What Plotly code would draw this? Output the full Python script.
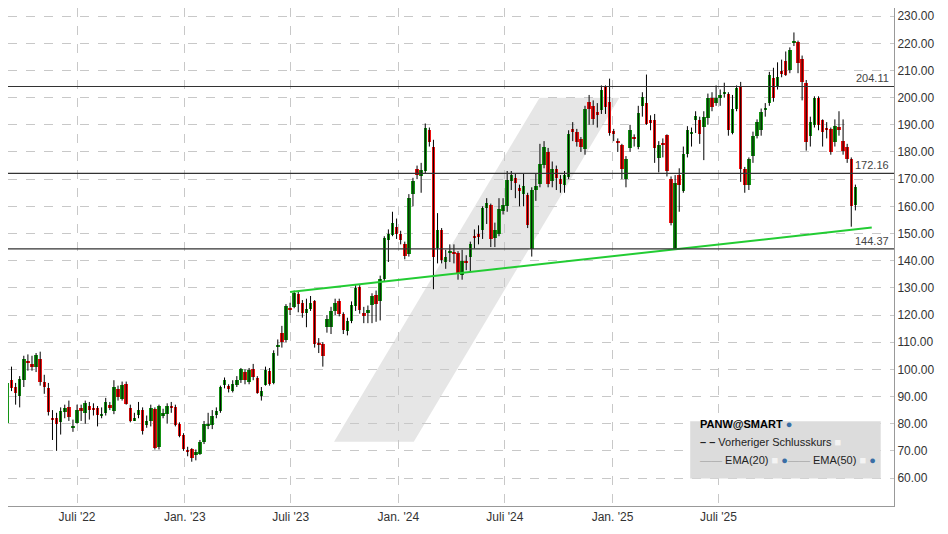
import pandas as pd
import plotly.graph_objects as go

# weekly candles: open, close, high, low
opens = [83.2,80.4,96.1,93.5,90.2,96.2,103,102,101,103.8,95.3,93.1,82.2,82,80.7,84.3,86.2,78.5,80.3,85.8,
         84,86.5,85.9,85.6,82.8,84,86.9,84.7,92.9,89.2,94.7,85.8,81,83.3,85.2,79.5,81,85.5,71.5,82.8,
         83.7,86.5,86.2,80,76,70.3,70.6,68.5,69,73.2,79,79.5,83.2,84.7,94.4,93.8,92,94.4,96,99,
         95.3,100.1,96.8,90.2,94.4,99.4,95.1,108.3,113.4,110.7,122.6,123,127.7,124.5,120.7,122.3,125.1,109.7,109.3,115.6,
         115.6,121.5,125.1,120.3,114.1,117.8,123.3,130.3,120.8,120.8,123.7,127.4,125.1,133.1,147.5,149.4,152.4,149.9,146.2,142.3,
         164.6,173.7,171.1,173,188,181.8,144.8,151.3,139.6,142.9,143.2,142.9,134.6,139.9,141.4,149,149.7,151.4,159.5,160.5,
         148.4,149.9,158.3,160,169.5,170.5,166.7,164.4,164.1,144.2,165.9,168.3,175.2,180,169.3,173.6,170.1,167.9,170.9,188.5,
         187.5,184.7,181,198.4,196.9,194.7,195.4,203.9,198.4,187.7,184,182.5,170.1,181.6,185.5,181.9,196.9,198.1,191.7,191.7,
         177.9,183.4,186.1,170.1,144.4,171.7,165.6,179.1,186.7,191.7,191.7,189.2,192.6,199.7,198,199.9,201.4,201.4,187,196,
         204.2,173.6,167.7,178.5,185.9,188,195.3,198.1,207.1,203.9,209.8,213.4,210,220.2,220.5,214.4,205.5,185.9,189.9,199.7,
         191.7,188.9,188.5,183.8,189.2,184,181.9,177.5,160.4]
closes = [80.6,95.1,93.3,91.4,96.3,103.8,102.2,101,105.1,95.4,93.6,84.3,81.6,80,84.7,85.6,82.5,79,85,84.7,
          87.6,85,85,83.2,83.7,88,85.8,93.5,89.8,94.4,87.4,81,82.2,85.2,77.3,81,85.8,71.1,86.5,84,
          86.5,85.8,79.5,75.5,70.7,69.7,67.5,69.6,73.3,80,80,82.8,84.7,93.5,96,93.1,94.7,96,100,96,
          99.9,97,91.4,92,99.9,94.5,106.1,108.9,110.2,123.3,121.8,128.1,124,120.8,122.2,124.5,109.4,109.1,104.9,118.5,
          121.5,124.5,120.3,114.5,117.8,123.7,130,121.7,119.6,121.8,127,124.2,133.1,148.4,149.7,153.8,149.7,147.7,141.7,163.2,
          169.3,171.5,173.2,188.9,183.8,141.4,151.3,140.3,141.3,143.5,142.5,135,139.9,139.2,146,148.4,149,159.5,161.2,147.9,
          151.4,159.2,160.6,169.7,171.5,168.7,165.6,167.4,153.1,166,167.4,175.7,181.8,168.3,173.8,170.5,168.3,171.5,186.8,187.5,
          183.8,181.8,196,196,192.2,193.8,203,196.6,187,186.8,183.4,173.8,177.5,188,184.9,194.3,200.4,190.4,191,181.3,
          182.5,182.8,172.9,153.7,168.7,167.7,179.4,188,187.3,193.2,186.8,192.8,199.7,196.6,199.7,200.9,202,188,196,203.4,
          173.6,167.7,177.5,186,191,194.7,196.3,208.5,199.7,207.6,208.8,208.5,217.5,220.8,212.8,205.7,183.7,191,199.7,189.9,
          187.3,188.3,179.9,189.5,188,180.3,177.5,160.1,167.2]
highs = [84.5,96.5,101,95,97.5,105,105.5,105,106,106.5,98,95,85,84,86,87,88.5,81.5,87,87,
         88.5,88,87.5,86.5,86,89.5,88,96,94,95.5,95.5,87,84,88,86,83,87,86,87,85.5,
         87.5,88,87,80.5,76.5,71.5,71,70.5,74,81,84,85,86,94,97,94.5,96,97.5,100.5,100,
         100.5,102,97.5,93.5,101,100.5,107,111,116,124,124.5,129,128.5,125.5,126,127,125.5,111.5,110,120,
         123,126,126,121,119,125,131,131,123,123.5,128,129,134.5,149,151.5,158,155.5,151,147,164.5,
         170.5,175,176,190.5,189,184.5,157.5,152,144,146,146,143.5,144,142,147,151.5,153,160,163,161,
         154,163,163,173,173,172,168,172,165,167,172,183,184,181.5,176.5,175,171.5,173,188,191,
         188.5,185.5,197,201,199,198,204.5,204.5,207,188.5,185,183,178.5,190,186.5,197,202,208.5,193.5,194,
         184,185,186.5,171,171.5,174,182,189.5,189,195,193,195,201.5,202,204.5,203,205.5,202,201,204.5,
         205.8,174.5,178,187.5,192,196,198,209.5,211,213,214,217,218.5,224,221,215.5,206.5,193,200.5,200.5,
         192,191,189,192,195,192,183,178,168]
lows = [78,77,92,87,86,93.5,99.5,99.5,99,94,91,83,74,70,76,82,81,77,80,81,
        80,81.5,83,79,82,83,85,83.5,88.5,88.5,87,80.5,81,82,76,78.5,79,70.5,70.5,82,
        80,84,79,75,70,68,66,66.5,68.5,72.5,78,78,82,84,93,91.5,91.5,93.5,95,94.5,
        94.5,96,91,88.5,94,94,94.5,105,108,110,120,122.5,121,119,115.5,121.5,108,106,101,113.5,
        113,120,119.5,113,112.5,117,121.5,120.5,117,117,117,117.5,118,132.5,139.5,149,148,146,140.5,141.5,
        160,170,165,172,182,129.5,139,139,137,139.5,139,133,133,136.5,136,144.5,146,148,153.5,145,
        145,149,157,158,166,163,160,160,152,141.5,162,167,174,167,167,166,165,165,170,184,
        182,180,179,190,190,189,194,194,186,184,180,170,167,180,182,181,193,190,188,176,
        172.5,178,171,153,144.4,158,165,178,182,187,183,177,190,195,197,197,200,186,186.5,195,
        169,165,166,176,185,186,193,197,198.5,203,207.5,208,209,219,209,199,180.5,182,189,188,
        182,185,179,182,186,179,176,152.5,158.5]

dates = pd.date_range("2022-02-25", periods=len(opens), freq="7D")

tick_dates = ["2022-07-01", "2023-01-01", "2023-07-01", "2024-01-01", "2024-07-01", "2025-01-01", "2025-07-01"]
tick_text = ["Juli '22", "Jan. '23", "Juli '23", "Jan. '24", "Juli '24", "Jan. '25", "Juli '25"]
levels = [204.11, 172.16, 144.37]
trend_dates = ["2023-06-30", "2026-03-20"]
trend_vals = [128.5, 152.2]

up_col, down_col = "#149414", "#ee1111"

# black wicks
wx, wy = [], []
for d, h, l in zip(dates, highs, lows):
    wx += [d, d, None]
    wy += [l, h, None]

base = [min(o, c) for o, c in zip(opens, closes)]
size = [max(abs(c - o), 0.5) for o, c in zip(opens, closes)]
cols = [up_col if c >= o else down_col for o, c in zip(opens, closes)]

fig = go.Figure()
fig.add_trace(go.Scatter(x=wx, y=wy, mode="lines", line=dict(color="black", width=1),
                         hoverinfo="skip", showlegend=False))
fig.add_trace(go.Bar(x=dates, y=size, base=base, marker=dict(color=cols, line_width=0),
                     width=6 * 86400000, showlegend=False))
fig.add_trace(go.Scatter(x=trend_dates, y=trend_vals, mode="lines",
                         line=dict(color="#22cc33", width=2), showlegend=False))

# grey band in the background
fig.add_shape(type="path", xref="paper", yref="paper", layer="below", line_width=0,
              fillcolor="#e6e6e6",
              path="M 0.368 0.129 L 0.458 0.129 L 0.690 0.82 L 0.600 0.82 Z")

for v in levels:
    fig.add_hline(y=v, line=dict(color="#333333", width=1.2))
    fig.add_annotation(x=0.997, xref="paper", y=v, yanchor="bottom", xanchor="right",
                       text=f"{v:.2f}", showarrow=False, font=dict(size=11, color="#444"))

# legend box
fig.add_shape(type="rect", xref="paper", yref="paper", x0=0.77, x1=0.985, y0=0.055, y1=0.17,
              fillcolor="#dcdcdc", line_width=0)
fig.add_annotation(x=0.779, y=0.148, xref="paper", yref="paper", xanchor="left", showarrow=False,
                   text="<b>PANW@SMART</b> <span style='color:#3a6ea5'>●</span>", font=dict(size=11, color="black"))
fig.add_annotation(x=0.779, y=0.112, xref="paper", yref="paper", xanchor="left", showarrow=False,
                   text="<b>– –</b> Vorheriger Schlusskurs <span style='color:#f4f4f4'>■</span>",
                   font=dict(size=11, color="#222"))
fig.add_annotation(x=0.779, y=0.076, xref="paper", yref="paper", xanchor="left", showarrow=False,
                   text="<span style='color:#aaa'>——</span> EMA(20) <span style='color:#f4f4f4'>■</span> "
                        "<span style='color:#3a6ea5'>●</span><span style='color:#aaa'>——</span> EMA(50) "
                        "<span style='color:#f4f4f4'>■</span> <span style='color:#3a6ea5'>●</span>",
                   font=dict(size=11, color="#222"))

fig.update_layout(
    width=948, height=534, margin=dict(l=0, r=62, t=0, b=36),
    plot_bgcolor="white", paper_bgcolor="white", bargap=0,
    font=dict(family="Liberation Sans, Arial", size=12, color="#333"),
    showlegend=False,
)
fig.update_xaxes(range=["2022-03-05", "2026-04-27"], tickvals=tick_dates, ticktext=tick_text,
                 showgrid=True, gridcolor="#c8c8c8", griddash="dash", showline=True,
                 linecolor="#999", mirror=True, ticks="", zeroline=False)
fig.update_yaxes(side="right", range=[49.7, 233.0], tickvals=list(range(60, 231, 10)),
                 tickformat=".2f", showgrid=True, gridcolor="#c8c8c8", griddash="dash",
                 showline=True, linecolor="#999", mirror=True, ticks="", zeroline=False)

fig.write_html("out.html")
